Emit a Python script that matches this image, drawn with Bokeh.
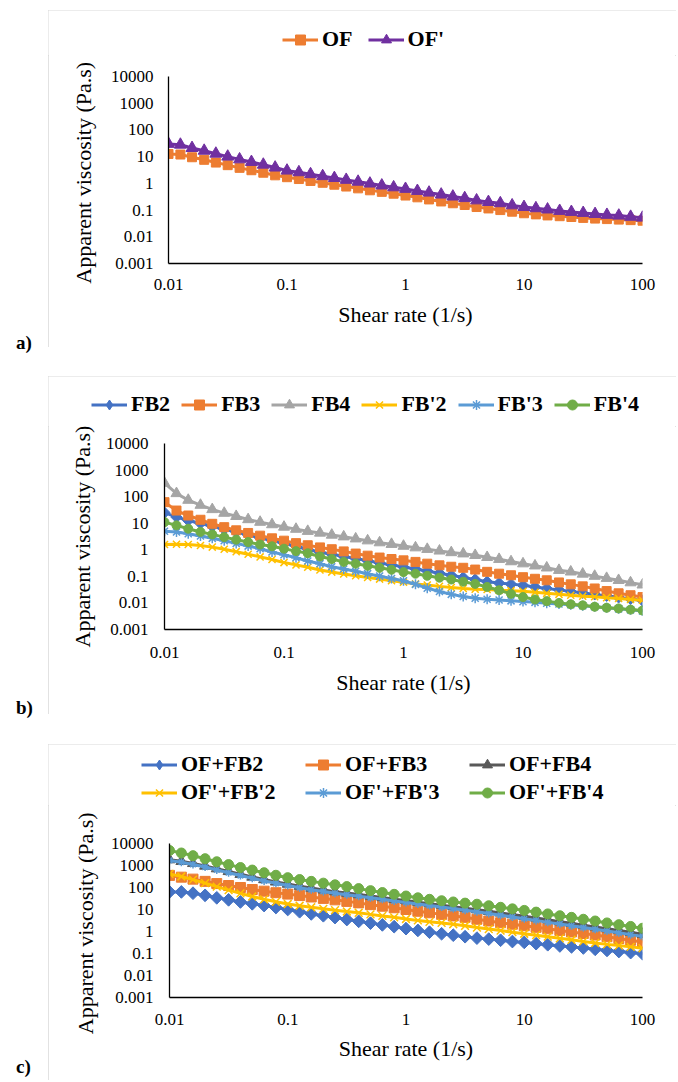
import math
from bokeh.plotting import figure
from bokeh.models import Range1d, FixedTicker, Legend, LegendItem, Div, Spacer
from bokeh.layouts import column, row
from bokeh.embed import file_html
from bokeh.resources import INLINE

# ---------------- data ----------------
shear_rate = [0.01, 0.0126, 0.0158, 0.02, 0.0251, 0.0316, 0.0398, 0.0501, 0.0631, 0.0794,
              0.1, 0.126, 0.158, 0.2, 0.251, 0.316, 0.398, 0.501, 0.631, 0.794,
              1, 1.26, 1.58, 2, 2.51, 3.16, 3.98, 5.01, 6.31, 7.94,
              10, 12.6, 15.8, 20, 25.1, 31.6, 39.8, 50.1, 63.1, 79.4, 100]

x_ticks = [0.01, 0.1, 1, 10, 100]
x_tick_labels = ["0.01", "0.1", "1", "10", "100"]
y_ticks = [0.001, 0.01, 0.1, 1, 10, 100, 1000, 10000]
y_tick_labels = ["0.001", "0.01", "0.1", "1", "10", "100", "1000", "10000"]

# panel a
a_names = ["OF", "OF'"]
OF = [12.6, 12.0, 9.5, 7.6, 6.0, 4.8, 3.8, 3.1, 2.5, 2.0, 1.7, 1.45, 1.23, 1.05, 0.89, 0.76,
      0.65, 0.55, 0.48, 0.41, 0.35, 0.30, 0.25, 0.21, 0.18, 0.155, 0.13, 0.115, 0.10, 0.087,
      0.076, 0.069, 0.063, 0.059, 0.055, 0.051, 0.048, 0.046, 0.044, 0.042, 0.040]
OFp = [30, 28, 21, 16.6, 12.9, 10, 7.9, 6.3, 5.0, 3.9, 3.0, 2.6, 2.2, 1.86, 1.58, 1.35, 1.15,
       0.98, 0.83, 0.71, 0.62, 0.52, 0.45, 0.38, 0.32, 0.28, 0.23, 0.20, 0.18, 0.15, 0.13,
       0.117, 0.105, 0.093, 0.085, 0.078, 0.071, 0.066, 0.062, 0.056, 0.052]

# panel b
b_names = ["FB2", "FB3", "FB4", "FB'2", "FB'3", "FB'4"]
FB2 = [25, 17, 12.6, 9.8, 7.6, 5.9, 4.7, 3.6, 2.8, 2.2, 1.74, 1.35, 1.05, 0.81, 0.68, 0.56,
       0.47, 0.39, 0.32, 0.27, 0.224, 0.19, 0.158, 0.132, 0.110, 0.091, 0.076, 0.063, 0.056,
       0.051, 0.046, 0.040, 0.035, 0.031, 0.027, 0.024, 0.021, 0.0186, 0.0162, 0.0141, 0.0123]
FB3 = [62, 30, 19.5, 13.5, 9.5, 7.1, 5.4, 4.3, 3.4, 2.7, 2.2, 1.78, 1.48, 1.23, 1.05, 0.87,
       0.72, 0.60, 0.51, 0.45, 0.40, 0.35, 0.30, 0.26, 0.23, 0.21, 0.18, 0.148, 0.126, 0.110,
       0.093, 0.081, 0.071, 0.059, 0.050, 0.042, 0.035, 0.028, 0.023, 0.0195, 0.0166]
FB4 = [324, 132, 74, 48, 33, 24, 18.2, 13.8, 11.0, 8.9, 7.2, 6.0, 5.0, 4.3, 3.6, 3.1, 2.6,
       2.2, 1.86, 1.62, 1.38, 1.20, 1.05, 0.91, 0.79, 0.71, 0.62, 0.52, 0.44, 0.36, 0.30,
       0.25, 0.21, 0.17, 0.148, 0.123, 0.102, 0.085, 0.071, 0.058, 0.048]
FBp2 = [1.58, 1.62, 1.58, 1.45, 1.26, 1.05, 0.85, 0.68, 0.54, 0.43, 0.33, 0.27, 0.22, 0.174,
        0.145, 0.123, 0.105, 0.091, 0.079, 0.069, 0.060, 0.052, 0.047, 0.042, 0.038, 0.035,
        0.033, 0.032, 0.030, 0.029, 0.0275, 0.025, 0.023, 0.021, 0.0195, 0.018, 0.017, 0.0158,
        0.0148, 0.0135, 0.0126]
FBp3 = [5.0, 4.7, 4.0, 3.3, 2.7, 2.2, 1.74, 1.38, 1.10, 0.83, 0.65, 0.50, 0.38, 0.30, 0.23,
        0.19, 0.155, 0.126, 0.102, 0.083, 0.068, 0.050, 0.036, 0.027, 0.021, 0.0174, 0.0151,
        0.0138, 0.0129, 0.0120, 0.0112, 0.0105, 0.0098, 0.0091, 0.0085, 0.0079, 0.0072,
        0.0066, 0.0060, 0.0055, 0.0050]
FBp4 = [11.0, 8.3, 6.2, 4.7, 3.8, 3.0, 2.4, 1.95, 1.58, 1.35, 1.10, 0.89, 0.74, 0.56, 0.45,
        0.35, 0.30, 0.25, 0.21, 0.178, 0.145, 0.126, 0.105, 0.089, 0.076, 0.063, 0.052, 0.040,
        0.030, 0.022, 0.0166, 0.0135, 0.0117, 0.0100, 0.0089, 0.0081, 0.0072, 0.0066, 0.0062,
        0.0056, 0.0052]

# panel c
c_names = ["OF+FB2", "OF+FB3", "OF+FB4", "OF'+FB'2", "OF'+FB'3", "OF'+FB'4"]
OF_FB2 = [63, 63, 55, 44, 34, 27.5, 22, 18.2, 15.1, 12.3, 10.0, 7.9, 6.3, 5.2, 4.3, 3.5, 2.9,
          2.4, 2.0, 1.66, 1.35, 1.12, 0.93, 0.79, 0.68, 0.58, 0.50, 0.45, 0.40, 0.35, 0.32,
          0.28, 0.25, 0.22, 0.20, 0.178, 0.155, 0.138, 0.123, 0.110, 0.098]
OF_FB3 = [355, 295, 240, 190, 151, 123, 100, 81, 68, 58, 50, 43, 37, 32, 27.5, 23.4, 20,
          16.6, 14.1, 12.0, 10.0, 8.3, 7.1, 6.0, 5.1, 4.4, 3.6, 3.0, 2.5, 2.14, 1.82, 1.55,
          1.32, 1.12, 0.95, 0.81, 0.69, 0.58, 0.48, 0.40, 0.33]
OF_FB4 = [1850, 1550, 1250, 950, 720, 540, 400, 300, 230, 180, 143, 115, 94, 78, 65, 56, 48,
          41, 35, 29.5, 25.5, 21.6, 18.4, 15.8, 13.5, 11.5, 9.8, 8.3, 7.0, 5.9, 4.9, 4.1, 3.4,
          2.8, 2.35, 1.95, 1.62, 1.35, 1.12, 0.92, 0.76]
OFp_FBp2 = [417, 316, 229, 158, 110, 76, 54, 39, 29, 22.4, 17.8, 14.8, 12.6, 10.7, 9.3, 8.1,
            7.1, 6.0, 5.1, 4.4, 3.7, 3.2, 2.75, 2.45, 2.14, 1.82, 1.51, 1.29, 1.10, 0.93,
            0.79, 0.68, 0.58, 0.49, 0.42, 0.355, 0.30, 0.26, 0.23, 0.20, 0.174]
OFp_FBp3 = [1700, 1410, 1120, 850, 630, 470, 350, 263, 200, 155, 123, 98, 79, 66, 55, 47, 40,
            34, 29, 24.5, 21, 17.8, 15.1, 12.9, 11.0, 9.3, 7.9, 6.6, 5.5, 4.6, 3.8, 3.2, 2.6,
            2.2, 1.82, 1.51, 1.26, 1.05, 0.87, 0.72, 0.60]
OFp_FBp4 = [4800, 3700, 2800, 2040, 1480, 1100, 810, 620, 470, 360, 280, 230, 190, 158, 132,
            110, 89, 72, 59, 49, 41, 34, 29, 25, 22, 19.5, 17.4, 14.8, 12.6, 10.7, 9.1, 7.6,
            6.3, 5.2, 4.4, 3.6, 3.0, 2.45, 2.04, 1.70, 1.41]

# ---------------- styling ----------------
FONT = "Liberation Serif"
FIG_W = 628
TAG_W = 48
BLUE, ORANGE, GRAY, YELLOW, LBLUE, GREEN = "#4472C4", "#ED7D31", "#A5A5A5", "#FFC000", "#5B9BD5", "#70AD47"
PURPLE, DGRAY = "#7030A0", "#595959"


def chart_fig(height, bl, bt, bb, y_std, x_std, xl_std, yl_std, ytitle):
    p = figure(width=FIG_W, height=height, x_axis_type="log", y_axis_type="log",
               x_range=Range1d(0.01, 100), y_range=Range1d(0.001, 10000),
               output_backend="svg", toolbar_location=None, frame_align=False,
               min_border_left=bl, min_border_right=34, min_border_top=bt, min_border_bottom=bb)
    p.outline_line_color = None
    p.background_fill_color = "white"
    p.border_fill_color = "white"
    p.xgrid.visible = False
    p.ygrid.visible = False
    xa, ya = p.xaxis[0], p.yaxis[0]
    xa.ticker = FixedTicker(ticks=x_ticks)
    ya.ticker = FixedTicker(ticks=y_ticks)
    xa.major_label_overrides = dict(zip(x_ticks, x_tick_labels))
    ya.major_label_overrides = dict(zip(y_ticks, y_tick_labels))
    for ax in (xa, ya):
        ax.axis_line_color = "black"
        ax.axis_line_width = 1.3
        ax.major_tick_line_color = None
        ax.minor_tick_line_color = None
        ax.major_tick_out = 0
        ax.major_tick_in = 0
        ax.major_label_text_font = FONT
        ax.major_label_text_font_size = "17px"
        ax.major_label_text_color = "black"
        ax.axis_label_text_font = FONT
        ax.axis_label_text_font_size = "22px"
        ax.axis_label_text_font_style = "normal"
        ax.axis_label_text_color = "black"
    ya.major_label_standoff = y_std
    xa.major_label_standoff = x_std
    xa.axis_label = "Shear rate (1/s)"
    xa.axis_label_standoff = xl_std
    ya.axis_label = ytitle
    ya.axis_label_standoff = yl_std
    return p


def legend_fig(height):
    # strip above the plot that carries only the legend; its y range lies below
    # every value, so the series drawn here only feed the legend swatches
    f = figure(width=FIG_W, height=height, x_range=Range1d(0, 1), y_range=Range1d(-2, -1),
               output_backend="svg", toolbar_location=None, frame_align=False,
               x_axis_location=None, y_axis_location=None, min_border=0)
    f.outline_line_color = None
    f.background_fill_color = "white"
    f.border_fill_color = "white"
    f.xgrid.visible = False
    f.ygrid.visible = False
    return f


def add_series(p, lf, y, color, marker, size, legend_marker, angle=0.0, mlw=1.0):
    p.line(shear_rate, y, line_color=color, line_width=3)
    p.scatter(shear_rate, y, marker=marker, size=size, angle=angle,
              fill_color=color, line_color=color, line_width=mlw)
    l1 = lf.line(shear_rate, y, line_color=color, line_width=3)
    l2 = lf.scatter(shear_rate, y, marker=legend_marker, size=size,
                    fill_color=color, line_color=color, line_width=mlw)
    return [l1, l2]


def add_legend(lf, names, rends, loc, spacing, ncols=None, label_width=20):
    items = [LegendItem(label=n, renderers=r) for n, r in zip(names, rends)]
    kw = {}
    if ncols:
        kw["ncols"] = ncols
    lg = Legend(items=items, location=loc, orientation="horizontal", spacing=spacing,
                padding=0, margin=0, glyph_width=36, glyph_height=25, label_standoff=4,
                label_width=label_width, border_line_color=None, background_fill_alpha=0,
                label_text_font=FONT, label_text_font_size="22px",
                label_text_font_style="bold", label_text_color="black", **kw)
    lf.add_layout(lg)


def tag(text, height, top):
    return Div(text='<div style="position:relative; left:16px; top:%dpx; '
                    'font-family:\'Liberation Serif\'; font-weight:bold; font-size:19px; '
                    'line-height:22px; color:black;">%s</div>' % (top, text),
               width=TAG_W, height=height, margin=0)


def boxed(lf, p, h):
    return column(lf, p, width=FIG_W, height=h, spacing=0,
                  styles={"outline": "1px solid #D9D9D9", "outline-offset": "-1px"})


# ---------------- panel a ----------------
HA, LHA = 337, 45
la = legend_fig(LHA)
pa = chart_fig(HA - LHA, 120, 76 - 10 - LHA, HA - (263 - 10), 15, 15, 9, 12,
               "Apparent viscosity  (Pa.s)")
ra = [add_series(pa, la, OF, ORANGE, "square", 9, "square"),
      add_series(pa, la, OFp, PURPLE, "triangle", 12, "triangle")]
add_legend(la, a_names, ra, (234, 3), 15)

# ---------------- panel b ----------------
HB, LHB = 338, 50
lb = legend_fig(LHB)
pb = chart_fig(HB - LHB, 116, 443 - 376 - LHB, HB - (629 - 376), 16, 17, 9, 8,
               "Apparent viscosity (Pa.s)")
rb = [add_series(pb, lb, FB2, BLUE, "square", 8, "diamond", angle=math.pi / 4),
      add_series(pb, lb, FB3, ORANGE, "square", 9, "square"),
      add_series(pb, lb, FB4, GRAY, "triangle", 11, "triangle"),
      add_series(pb, lb, FBp2, YELLOW, "x", 10, "x", mlw=1.5),
      add_series(pb, lb, FBp3, LBLUE, "asterisk", 10, "asterisk", mlw=1.5),
      add_series(pb, lb, FBp4, GREEN, "circle", 9, "circle")]
add_legend(lb, b_names, rb, (43, 9), 11)

# ---------------- panel c ----------------
HC, LHC = 336, 61
lc = legend_fig(LHC)
pc = chart_fig(HC - LHC, 121, 843 - 744 - LHC, HC - (997 - 744), 16, 16, 8, 10,
               "Apparent viscosity  (Pa.s)")
rc = [add_series(pc, lc, OF_FB2, BLUE, "square", 9, "diamond", angle=math.pi / 4),
      add_series(pc, lc, OF_FB3, ORANGE, "square", 10, "square"),
      add_series(pc, lc, OF_FB4, DGRAY, "triangle", 11, "triangle"),
      add_series(pc, lc, OFp_FBp2, YELLOW, "x", 11, "x", mlw=1.5),
      add_series(pc, lc, OFp_FBp3, LBLUE, "asterisk", 8, "asterisk", mlw=1.5),
      add_series(pc, lc, OFp_FBp4, GREEN, "circle", 10, "circle")]
add_legend(lc, c_names, rc, (93, 0), 2, ncols=3, label_width=122)

layout = column(
    Spacer(height=10, width=10),
    row(tag("a)", HA, 322), boxed(la, pa, HA), spacing=0),
    Spacer(height=29, width=10),
    row(tag("b)", HB, 321), boxed(lb, pb, HB), spacing=0),
    Spacer(height=30, width=10),
    row(tag("c)", HC, 312), boxed(lc, pc, HC), spacing=0),
    spacing=0,
)
open("out.html", "w").write(file_html(layout, INLINE, title="Apparent viscosity"))
